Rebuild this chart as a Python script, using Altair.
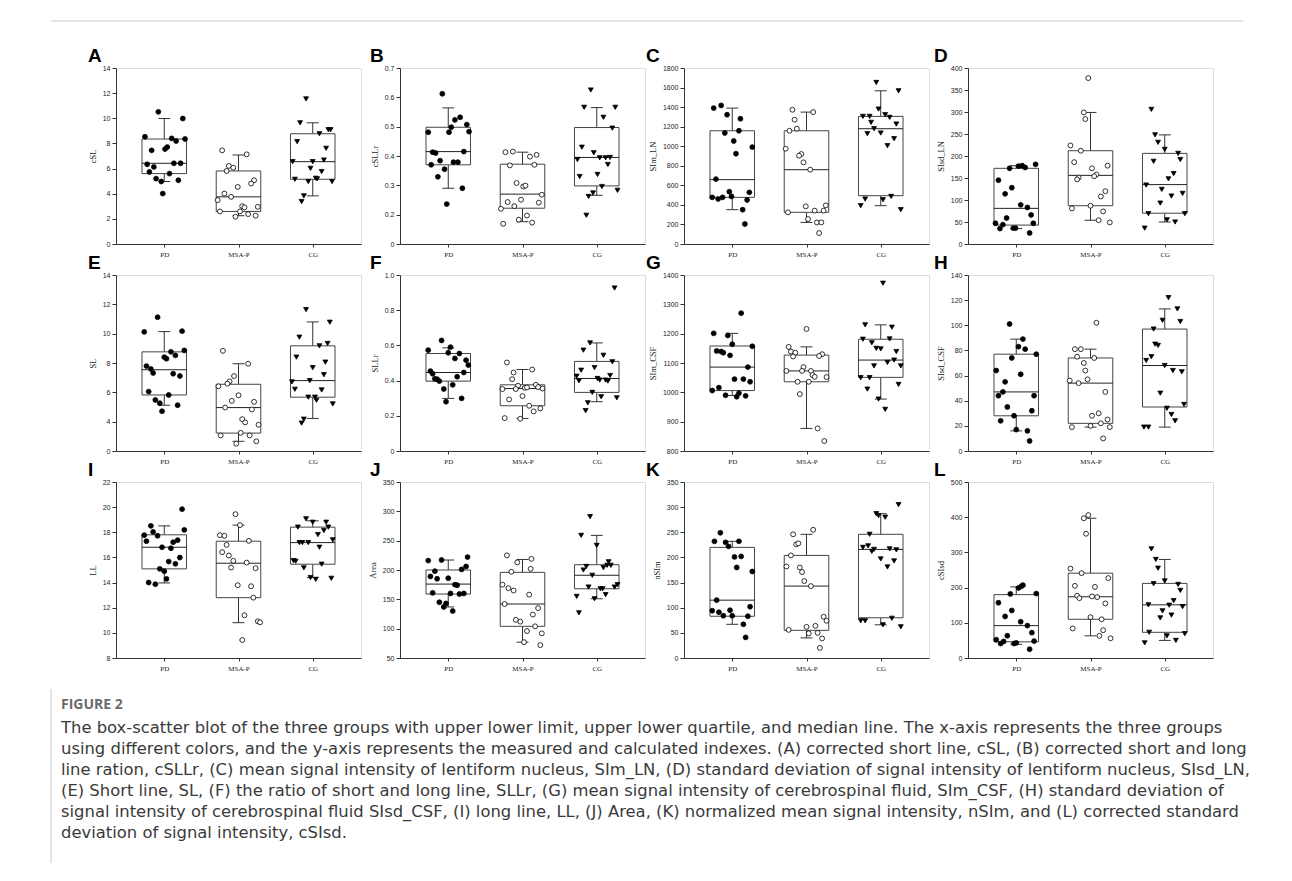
import altair as alt
import pandas as pd

GROUPS = ["PD", "MSA-P", "CG"]

# ---------------- A: cSL ----------------
CSL_PD = [10.51, 9.98, 8.53, 8.40, 8.19, 8.35, 7.71, 7.55, 7.45, 6.34, 6.13, 6.42, 6.42, 5.73, 5.60, 5.20, 4.97, 5.07, 4.01]
CSL_PD_J = [-0.08, 0.25, -0.26, 0.10, 0.16, 0.28, 0.04, 0.01, -0.17, -0.23, -0.14, 0.13, 0.22, -0.20, 0.07, -0.11, -0.04, 0.19, -0.02]
CSL_PD_BOX = [4.97, 5.60, 6.42, 8.35, 9.98]
CSL_MSA = [7.45, 7.13, 6.21, 6.07, 5.81, 5.07, 4.81, 4.54, 4.01, 3.75, 3.49, 3.01, 2.91, 2.96, 2.59, 2.59, 2.38, 2.25, 2.17]
CSL_MSA_J = [-0.22, 0.11, -0.13, -0.07, -0.16, 0.21, 0.17, -0.01, -0.19, -0.10, -0.28, 0.05, 0.08, 0.26, -0.25, 0.02, 0.13, 0.23, -0.04]
CSL_MSA_BOX = [2.25, 2.59, 3.75, 5.81, 7.08]
CSL_CG = [11.54, 9.64, 9.09, 9.09, 8.77, 8.14, 7.61, 6.55, 6.55, 6.68, 6.02, 5.76, 5.15, 5.23, 5.18, 4.97, 4.97, 3.83, 3.38]
CSL_CG_J = [-0.09, -0.17, 0.21, 0.24, 0.09, -0.21, 0.18, -0.27, 0.0, 0.15, -0.03, 0.12, -0.24, 0.04, 0.06, -0.06, 0.26, -0.12, -0.15]
CSL_CG_BOX = [3.83, 5.15, 6.55, 8.77, 9.64]

# ---------------- B: cSLLr ----------------
CSLLR_PD = [0.612, 0.532, 0.523, 0.507, 0.498, 0.481, 0.481, 0.483, 0.413, 0.410, 0.415, 0.384, 0.379, 0.379, 0.370, 0.355, 0.329, 0.290, 0.236]
CSLLR_PD_J = [-0.08, 0.16, 0.09, 0.25, 0.04, -0.27, 0.01, 0.28, -0.21, -0.17, 0.21, -0.11, 0.07, 0.13, -0.23, -0.05, -0.14, 0.19, -0.02]
CSLLR_PD_BOX = [0.290, 0.370, 0.415, 0.498, 0.564]
CSLLR_MSA = [0.413, 0.415, 0.398, 0.404, 0.368, 0.370, 0.308, 0.296, 0.299, 0.268, 0.251, 0.243, 0.241, 0.229, 0.220, 0.197, 0.183, 0.173, 0.169]
CSLLR_MSA_J = [-0.23, -0.13, 0.10, 0.19, -0.17, 0.16, -0.08, 0.01, 0.04, 0.26, -0.02, -0.20, 0.22, -0.11, -0.29, 0.06, -0.05, 0.13, -0.26]
CSLLR_MSA_BOX = [0.176, 0.222, 0.270, 0.372, 0.413]
CSLLR_CG = [0.625, 0.566, 0.566, 0.532, 0.495, 0.430, 0.411, 0.388, 0.394, 0.394, 0.395, 0.371, 0.337, 0.330, 0.296, 0.283, 0.274, 0.262, 0.198]
CSLLR_CG_J = [-0.08, -0.17, 0.25, 0.09, 0.21, -0.20, -0.04, -0.26, 0.04, 0.12, 0.18, 0.15, 0.01, -0.23, 0.07, 0.28, -0.05, -0.11, -0.14]
CSLLR_CG_BOX = [0.266, 0.298, 0.395, 0.497, 0.565]

# ---------------- C: SIm_LN ----------------
SIMLN_PD = [1417, 1390, 1322, 1281, 1135, 1158, 1053, 991, 923, 664, 535, 528, 477, 460, 477, 487, 450, 351, 204]
SIMLN_PD_J = [-0.15, -0.25, -0.07, 0.11, -0.10, 0.09, 0.02, 0.27, 0.05, -0.22, -0.04, 0.23, -0.27, -0.19, -0.13, -0.01, 0.20, 0.14, 0.17]
SIMLN_PD_BOX = [351, 477, 658, 1158, 1390]
SIMLN_MSA = [1373, 1349, 1271, 1179, 1158, 974, 920, 903, 835, 760, 385, 324, 341, 341, 395, 255, 221, 221, 112]
SIMLN_MSA_J = [-0.19, 0.09, -0.16, -0.13, -0.23, -0.28, -0.07, -0.10, -0.04, 0.05, -0.01, -0.25, 0.11, 0.23, 0.26, 0.02, 0.14, 0.20, 0.17]
SIMLN_MSA_BOX = [221, 324, 760, 1158, 1349]
SIMLN_CG = [1652, 1567, 1380, 1305, 1305, 1322, 1295, 1244, 1179, 1227, 1128, 1135, 1077, 1005, 460, 453, 487, 392, 351]
SIMLN_CG_J = [-0.06, 0.24, -0.03, -0.24, -0.15, 0.06, 0.12, -0.13, -0.09, 0.21, -0.18, 0.0, 0.18, 0.09, -0.21, 0.03, 0.14, -0.27, 0.27]
SIMLN_CG_BOX = [392, 494, 1179, 1305, 1567]

# ---------------- D: SIsd_LN ----------------
SISDLN_PD = [145, 128, 114, 181, 178, 177, 174, 172, 89, 83, 66, 59, 47, 44, 47, 35, 36, 36, 25]
SISDLN_PD_J = [-0.24, -0.06, -0.15, 0.26, 0.08, 0.03, 0.12, -0.09, 0.06, 0.15, 0.20, -0.13, -0.28, -0.18, 0.23, -0.22, -0.04, -0.01, 0.18]
SISDLN_PD_BOX = [35, 43, 81, 172, 178]
SISDLN_MSA = [377, 299, 284, 224, 212, 186, 172, 178, 158, 154, 151, 147, 120, 108, 87, 81, 74, 54, 49]
SISDLN_MSA_J = [-0.03, -0.09, -0.07, -0.27, -0.13, -0.22, 0.02, 0.23, 0.08, 0.05, -0.16, -0.18, 0.20, 0.14, 0.0, -0.25, 0.17, 0.11, 0.26]
SISDLN_MSA_BOX = [54, 87, 156, 212, 299]
SISDLN_CG = [306, 248, 231, 215, 206, 192, 188, 160, 148, 134, 124, 115, 109, 93, 69, 69, 55, 50, 36]
SISDLN_CG_J = [-0.18, -0.13, -0.09, 0.0, 0.18, 0.21, -0.15, 0.12, 0.05, -0.25, -0.04, 0.24, 0.09, -0.06, -0.22, 0.27, 0.03, 0.14, -0.27]
SISDLN_CG_BOX = [50, 70, 135, 206, 248]

# ---------------- E: SL ----------------
SL_PD = [11.12, 10.12, 10.17, 8.86, 8.76, 8.52, 8.40, 8.29, 7.79, 7.59, 7.32, 7.27, 7.11, 6.05, 5.82, 5.48, 5.26, 5.12, 4.71]
SL_PD_J = [-0.09, -0.27, 0.24, 0.27, 0.09, 0.15, 0.0, 0.03, -0.24, -0.18, -0.15, 0.12, 0.21, -0.21, 0.06, -0.12, -0.06, 0.18, -0.03]
SL_PD_BOX = [5.12, 5.82, 7.54, 8.76, 10.14]
SL_MSA = [8.83, 7.95, 7.11, 6.75, 6.59, 6.41, 5.80, 5.42, 5.35, 4.96, 4.83, 4.17, 3.95, 3.79, 3.24, 3.06, 3.06, 2.66, 2.50]
SL_MSA_J = [-0.21, 0.13, -0.06, -0.12, -0.15, -0.27, 0.0, -0.09, 0.21, -0.18, 0.18, 0.05, 0.09, 0.27, 0.03, -0.24, 0.15, 0.24, -0.03]
SL_MSA_BOX = [2.66, 3.22, 4.96, 6.55, 7.95]
SL_CG = [11.64, 10.78, 9.76, 9.33, 9.17, 8.40, 8.06, 7.68, 7.20, 6.71, 6.80, 6.21, 6.16, 5.67, 5.67, 5.46, 5.21, 4.17, 3.90]
SL_CG_J = [-0.09, 0.23, -0.18, 0.20, 0.09, -0.22, 0.17, 0.0, 0.15, -0.28, -0.04, -0.24, 0.12, -0.06, 0.03, 0.05, 0.27, -0.12, -0.15]
SL_CG_BOX = [4.22, 5.67, 6.80, 9.17, 10.80]

# ---------------- F: SLLr ----------------
SLLR_PD = [0.628, 0.573, 0.590, 0.558, 0.554, 0.526, 0.516, 0.488, 0.454, 0.439, 0.446, 0.410, 0.408, 0.397, 0.422, 0.376, 0.352, 0.299, 0.280]
SLLR_PD_J = [-0.09, -0.27, 0.03, 0.0, 0.15, 0.09, 0.24, 0.27, -0.24, -0.21, 0.21, -0.18, -0.15, -0.12, 0.12, 0.06, -0.06, 0.18, -0.03]
SLLR_PD_BOX = [0.299, 0.397, 0.446, 0.554, 0.586]
SLLR_MSA = [0.503, 0.463, 0.446, 0.408, 0.371, 0.376, 0.352, 0.352, 0.359, 0.361, 0.363, 0.355, 0.312, 0.293, 0.257, 0.242, 0.225, 0.187, 0.183]
SLLR_MSA_J = [-0.21, 0.13, -0.12, -0.14, -0.06, 0.18, -0.27, -0.09, 0.03, 0.06, 0.21, 0.27, 0.0, -0.18, 0.09, 0.24, 0.15, -0.24, -0.03]
SLLR_MSA_BOX = [0.185, 0.257, 0.355, 0.376, 0.463]
SLLR_CG = [0.926, 0.614, 0.573, 0.544, 0.507, 0.459, 0.474, 0.425, 0.429, 0.399, 0.412, 0.403, 0.403, 0.397, 0.333, 0.308, 0.302, 0.274, 0.229]
SLLR_CG_J = [0.24, -0.09, -0.18, 0.09, 0.21, -0.21, -0.03, -0.27, 0.18, -0.24, 0.01, 0.04, 0.12, 0.15, -0.06, 0.06, 0.27, -0.12, -0.15]
SLLR_CG_BOX = [0.280, 0.333, 0.412, 0.509, 0.614]

# ---------------- G: SIm_CSF ----------------
SIMCSF_PD = [1270, 1201, 1194, 1164, 1157, 1141, 1139, 1135, 1126, 1086, 1045, 1045, 1036, 1016, 1006, 997, 990, 988, 985]
SIMCSF_PD_J = [0.12, -0.25, -0.06, 0.0, 0.27, -0.21, -0.15, -0.12, -0.03, 0.21, 0.03, 0.15, 0.24, -0.18, -0.27, 0.09, -0.09, 0.18, 0.06]
SIMCSF_PD_BOX = [989, 1006, 1086, 1158, 1201]
SIMCSF_MSA = [1216, 1155, 1139, 1135, 1122, 1130, 1124, 1086, 1073, 1073, 1073, 1059, 1053, 1052, 1036, 1036, 994, 877, 834]
SIMCSF_MSA_J = [0.0, -0.24, -0.21, -0.15, -0.18, 0.21, 0.17, -0.04, -0.27, -0.06, 0.06, 0.08, 0.11, 0.27, -0.12, 0.03, -0.09, 0.15, 0.24]
SIMCSF_MSA_BOX = [877, 1036, 1073, 1127, 1155]
SIMCSF_CG = [1372, 1230, 1222, 1181, 1182, 1169, 1150, 1148, 1139, 1110, 1102, 1090, 1090, 1050, 1050, 1027, 1011, 977, 942]
SIMCSF_CG_J = [0.03, -0.21, 0.15, -0.24, 0.12, -0.12, -0.06, 0.0, 0.21, 0.18, 0.09, -0.09, 0.27, -0.27, -0.15, 0.24, -0.18, -0.03, 0.06]
SIMCSF_CG_BOX = [977, 1051, 1110, 1181, 1230]

# ---------------- H: SIsd_CSF ----------------
SISDCSF_PD = [101, 89, 83, 81, 77, 74, 64, 61, 55, 47, 44, 44, 35, 32, 28, 24, 17, 16, 8]
SISDCSF_PD_J = [-0.09, 0.09, 0.03, 0.12, 0.27, -0.06, -0.27, 0.06, -0.15, -0.18, -0.24, 0.24, -0.12, 0.21, -0.03, -0.21, 0.0, 0.15, 0.18]
SISDCSF_PD_BOX = [16, 28, 47, 77, 89]
SISDCSF_MSA = [102, 81, 81, 75, 74, 70, 64, 57, 56, 54, 47, 30, 28, 25, 22, 20, 19, 19, 10]
SISDCSF_MSA_J = [0.08, -0.21, -0.13, -0.18, 0.05, -0.09, -0.07, -0.04, -0.28, -0.16, 0.20, 0.11, 0.02, 0.23, 0.14, 0.0, -0.25, 0.26, 0.17]
SISDCSF_MSA_BOX = [19, 22, 54, 74, 81]
SISDCSF_CG = [122, 113, 103, 104, 97, 85, 84, 75, 72, 68, 64, 63, 46, 37, 34, 29, 24, 19, 19]
SISDCSF_CG_J = [0.05, 0.17, 0.21, -0.03, -0.15, -0.13, -0.09, -0.18, -0.25, 0.0, 0.11, 0.23, -0.06, 0.26, 0.03, 0.09, 0.14, -0.28, -0.22]
SISDCSF_CG_BOX = [19, 35, 68, 97, 113]

# ---------------- I: LL ----------------
LL_PD = [19.84, 18.51, 18.19, 18.03, 17.77, 17.72, 17.29, 17.37, 17.21, 16.81, 16.73, 15.99, 15.67, 15.49, 15.09, 14.90, 14.29, 14.00, 13.87]
LL_PD_J = [0.24, -0.18, 0.27, -0.15, -0.27, -0.09, -0.24, 0.18, 0.12, -0.03, 0.09, 0.21, 0.06, 0.15, -0.06, 0.0, 0.03, -0.21, -0.12]
LL_PD_BOX = [13.97, 15.09, 16.81, 17.80, 18.51]
LL_MSA = [19.44, 18.57, 17.77, 17.72, 17.32, 17.00, 16.42, 16.15, 15.73, 15.59, 15.19, 15.14, 13.79, 13.71, 12.80, 11.40, 10.92, 10.84, 9.43]
LL_MSA_J = [-0.04, 0.02, -0.25, -0.19, 0.14, -0.16, -0.22, -0.13, -0.07, 0.11, -0.10, 0.23, -0.01, 0.17, 0.20, 0.08, 0.26, 0.29, 0.05]
LL_MSA_BOX = [10.81, 12.80, 15.54, 17.29, 18.57]
LL_CG = [19.07, 18.80, 18.80, 18.41, 18.41, 18.14, 17.82, 17.40, 17.18, 17.18, 17.18, 16.81, 15.75, 15.70, 15.46, 15.17, 14.40, 14.26, 14.34]
LL_CG_J = [-0.09, 0.0, 0.18, -0.20, 0.21, 0.15, 0.07, 0.27, -0.18, -0.14, -0.06, 0.09, -0.26, -0.23, 0.12, -0.12, -0.03, 0.04, 0.25]
LL_CG_BOX = [14.40, 15.46, 17.18, 18.41, 18.91]

# ---------------- J: Area ----------------
AREA_PD = [222, 216, 217, 206, 198, 201, 189, 185, 186, 175, 174, 161, 160, 159, 160, 145, 143, 137, 130]
AREA_PD_J = [0.26, -0.27, -0.09, 0.24, -0.18, 0.18, -0.24, -0.15, 0.0, 0.09, 0.12, -0.21, 0.03, 0.15, 0.21, -0.12, -0.03, -0.06, 0.06]
AREA_PD_BOX = [137, 159, 176, 200, 217]
AREA_MSA = [225, 219, 213, 202, 197, 175, 169, 165, 158, 142, 135, 124, 115, 112, 104, 96, 92, 77, 72]
AREA_MSA_J = [-0.21, 0.12, -0.07, 0.11, -0.15, -0.27, -0.19, -0.12, 0.09, -0.24, 0.21, 0.14, -0.09, -0.03, 0.17, 0.06, 0.26, 0.02, 0.24]
AREA_MSA_BOX = [77, 104, 142, 196, 218]
AREA_CG = [291, 259, 242, 214, 206, 200, 204, 208, 208, 191, 171, 168, 168, 171, 175, 155, 158, 151, 127]
AREA_CG_J = [-0.09, -0.21, 0.0, 0.16, -0.14, -0.18, 0.09, 0.14, 0.19, -0.06, -0.11, 0.05, 0.08, 0.24, 0.28, -0.27, 0.12, -0.03, -0.24]
AREA_CG_BOX = [151, 168, 191, 209, 259]

# ---------------- K: nSIm ----------------
NSIM_PD = [249, 232, 230, 232, 222, 201, 202, 180, 172, 115, 94, 91, 95, 84, 84, 102, 83, 67, 41]
NSIM_PD_J = [-0.16, -0.24, -0.09, 0.09, -0.05, 0.03, 0.12, 0.06, 0.27, -0.21, -0.27, -0.18, -0.03, -0.12, 0.0, 0.24, 0.21, 0.15, 0.18]
NSIM_PD_BOX = [67, 83, 115, 220, 232]
NSIM_MSA = [255, 246, 226, 228, 204, 182, 180, 171, 153, 143, 82, 74, 64, 62, 56, 49, 50, 39, 20]
NSIM_MSA_J = [0.09, -0.18, -0.14, -0.11, -0.21, -0.27, -0.09, -0.06, -0.03, 0.06, 0.23, 0.27, 0.12, 0.0, -0.24, 0.03, 0.15, 0.21, 0.18]
NSIM_MSA_BOX = [40, 55, 143, 204, 246]
NSIM_CG = [305, 287, 283, 280, 246, 220, 223, 216, 212, 217, 215, 197, 193, 181, 74, 74, 79, 66, 62]
NSIM_CG_J = [0.24, -0.06, -0.03, 0.06, -0.15, -0.24, -0.17, -0.09, -0.12, 0.12, 0.21, 0.0, 0.18, 0.09, -0.27, -0.21, 0.15, 0.03, 0.27]
NSIM_CG_BOX = [66, 80, 216, 246, 287]

# ---------------- L: cSIsd ----------------
CSISD_PD = [207, 204, 199, 182, 183, 157, 135, 118, 103, 92, 72, 63, 52, 48, 47, 41, 41, 43, 25]
CSISD_PD_J = [0.09, 0.07, 0.03, -0.08, 0.27, -0.24, -0.06, -0.15, 0.06, 0.15, 0.21, -0.12, -0.27, 0.24, -0.17, -0.21, -0.03, 0.0, 0.18]
CSISD_PD_BOX = [39, 46, 92, 180, 202]
CSISD_MSA = [406, 397, 353, 254, 241, 227, 205, 202, 177, 170, 175, 173, 155, 116, 110, 84, 79, 63, 56]
CSISD_MSA_J = [-0.03, -0.09, -0.06, -0.27, -0.12, 0.24, -0.21, 0.06, -0.18, -0.15, 0.02, 0.09, 0.20, 0.0, 0.15, -0.24, 0.17, 0.12, 0.27]
CSISD_MSA_BOX = [63, 110, 174, 241, 397]
CSISD_CG = [310, 280, 255, 211, 219, 209, 192, 163, 151, 150, 146, 134, 122, 114, 73, 69, 63, 50, 43]
CSISD_CG_J = [-0.18, -0.12, -0.09, -0.15, 0.0, 0.18, 0.21, 0.12, -0.22, 0.06, 0.24, -0.03, 0.09, -0.06, -0.21, 0.27, 0.03, 0.15, -0.27]
CSISD_CG_BOX = [50, 73, 151, 212, 280]

CAPTION_TITLE = "FIGURE 2"
CAPTION_LINES = [
    "The box-scatter blot of the three groups with upper lower limit, upper lower quartile, and median line. The x-axis represents the three groups",
    "using different colors, and the y-axis represents the measured and calculated indexes. (A) corrected short line, cSL, (B) corrected short and long",
    "line ration, cSLLr, (C) mean signal intensity of lentiform nucleus, SIm_LN, (D) standard deviation of signal intensity of lentiform nucleus, SIsd_LN,",
    "(E) Short line, SL, (F) the ratio of short and long line, SLLr, (G) mean signal intensity of cerebrospinal fluid, SIm_CSF, (H) standard deviation of",
    "signal intensity of cerebrospinal fluid SIsd_CSF, (I) long line, LL, (J) Area, (K) normalized mean signal intensity, nSIm, and (L) corrected standard",
    "deviation of signal intensity, cSIsd.",
]

W, H = 245, 176
LETTER_DX = [-28, -30, -38, -34]

# (letter, y-title, series, y-domain, y-ticks, labelExpr)
PANELS = [
    ("A", "cSL", [(CSL_PD, CSL_PD_J, CSL_PD_BOX), (CSL_MSA, CSL_MSA_J, CSL_MSA_BOX), (CSL_CG, CSL_CG_J, CSL_CG_BOX)],
     [0, 14], [0, 2, 4, 6, 8, 10, 12, 14], None),
    ("B", "cSLLr", [(CSLLR_PD, CSLLR_PD_J, CSLLR_PD_BOX), (CSLLR_MSA, CSLLR_MSA_J, CSLLR_MSA_BOX), (CSLLR_CG, CSLLR_CG_J, CSLLR_CG_BOX)],
     [0.1, 0.7], [0.1, 0.2, 0.3, 0.4, 0.5, 0.6, 0.7], "datum.value < 0.15 ? '0' : format(datum.value, '.1f')"),
    ("C", "SIm_LN", [(SIMLN_PD, SIMLN_PD_J, SIMLN_PD_BOX), (SIMLN_MSA, SIMLN_MSA_J, SIMLN_MSA_BOX), (SIMLN_CG, SIMLN_CG_J, SIMLN_CG_BOX)],
     [0, 1800], [0, 200, 400, 600, 800, 1000, 1200, 1400, 1600, 1800], "format(datum.value, 'd')"),
    ("D", "SIsd_LN", [(SISDLN_PD, SISDLN_PD_J, SISDLN_PD_BOX), (SISDLN_MSA, SISDLN_MSA_J, SISDLN_MSA_BOX), (SISDLN_CG, SISDLN_CG_J, SISDLN_CG_BOX)],
     [0, 400], [0, 50, 100, 150, 200, 250, 300, 350, 400], None),
    ("E", "SL", [(SL_PD, SL_PD_J, SL_PD_BOX), (SL_MSA, SL_MSA_J, SL_MSA_BOX), (SL_CG, SL_CG_J, SL_CG_BOX)],
     [2, 14], [2, 4, 6, 8, 10, 12, 14], "datum.value < 3 ? '0' : datum.label"),
    ("F", "SLLr", [(SLLR_PD, SLLR_PD_J, SLLR_PD_BOX), (SLLR_MSA, SLLR_MSA_J, SLLR_MSA_BOX), (SLLR_CG, SLLR_CG_J, SLLR_CG_BOX)],
     [0, 1.0], [0, 0.2, 0.4, 0.6, 0.8, 1.0], "datum.value == 0 ? '0' : format(datum.value, '.1f')"),
    ("G", "SIm_CSF", [(SIMCSF_PD, SIMCSF_PD_J, SIMCSF_PD_BOX), (SIMCSF_MSA, SIMCSF_MSA_J, SIMCSF_MSA_BOX), (SIMCSF_CG, SIMCSF_CG_J, SIMCSF_CG_BOX)],
     [800, 1400], [800, 900, 1000, 1100, 1200, 1300, 1400], "format(datum.value, 'd')"),
    ("H", "SIsd_CSF", [(SISDCSF_PD, SISDCSF_PD_J, SISDCSF_PD_BOX), (SISDCSF_MSA, SISDCSF_MSA_J, SISDCSF_MSA_BOX), (SISDCSF_CG, SISDCSF_CG_J, SISDCSF_CG_BOX)],
     [0, 140], [0, 20, 40, 60, 80, 100, 120, 140], None),
    ("I", "LL", [(LL_PD, LL_PD_J, LL_PD_BOX), (LL_MSA, LL_MSA_J, LL_MSA_BOX), (LL_CG, LL_CG_J, LL_CG_BOX)],
     [8, 22], [8, 10, 12, 14, 16, 18, 20, 22], None),
    ("J", "Area", [(AREA_PD, AREA_PD_J, AREA_PD_BOX), (AREA_MSA, AREA_MSA_J, AREA_MSA_BOX), (AREA_CG, AREA_CG_J, AREA_CG_BOX)],
     [50, 350], [50, 100, 150, 200, 250, 300, 350], None),
    ("K", "nSIm", [(NSIM_PD, NSIM_PD_J, NSIM_PD_BOX), (NSIM_MSA, NSIM_MSA_J, NSIM_MSA_BOX), (NSIM_CG, NSIM_CG_J, NSIM_CG_BOX)],
     [0, 350], [0, 50, 100, 150, 200, 250, 300, 350], None),
    ("L", "cSIsd", [(CSISD_PD, CSISD_PD_J, CSISD_PD_BOX), (CSISD_MSA, CSISD_MSA_J, CSISD_MSA_BOX), (CSISD_CG, CSISD_CG_J, CSISD_CG_BOX)],
     [0, 500], [0, 100, 200, 300, 400, 500], None),
]

LINE = "#333333"


def make_panel(idx, letter, ytitle, series, domain, ticks, label_expr):
    pts, boxes = [], []
    for gi, (ys, js, bx) in enumerate(series, start=1):
        for yv, jv in zip(ys, js):
            pts.append({"x": gi + jv, "y": yv, "grp": GROUPS[gi - 1]})
        lo, q1, med, q3, hi = bx
        boxes.append({"gx": gi, "b0": gi - 0.3, "b1": gi + 0.3, "c0": gi - 0.08, "c1": gi + 0.08,
                      "lo": lo, "q1": q1, "med": med, "q3": q3, "hi": hi})
    pdf = pd.DataFrame(pts)
    bdf = pd.DataFrame(boxes)

    xs = alt.Scale(domain=[0.35, 3.65], nice=False, zero=False)
    ysc = alt.Scale(domain=domain, nice=False, zero=False)
    xax = alt.Axis(values=[1, 2, 3], title=None, grid=False, tickSize=3, tickColor=LINE,
                   labelExpr="datum.value == 1 ? 'PD' : (datum.value == 2 ? 'MSA-P' : 'CG')",
                   labelFont="Liberation Serif", labelFontSize=7, labelColor="#222222",
                   labelPadding=3, domainColor=LINE, labelFlush=False)
    yargs = dict(values=ticks, title=ytitle, grid=False, tickSize=4, tickColor=LINE,
                 labelFont="Liberation Sans", labelFontSize=7, labelColor="#222222", labelPadding=2,
                 titleFont="Liberation Serif", titleFontSize=8.5, titleFontWeight="normal",
                 titleColor="#222222", titlePadding=5, domainColor=LINE)
    if label_expr:
        yargs["labelExpr"] = label_expr
    yax = alt.Axis(**yargs)

    def X(f):
        return alt.X(f, type="quantitative", scale=xs, axis=xax)

    def Y(f):
        return alt.Y(f, type="quantitative", scale=ysc, axis=yax)

    base = alt.Chart(bdf)
    whisk_lo = base.mark_rule(color=LINE, strokeWidth=1).encode(x=X("gx"), y=Y("lo"), y2="q1")
    whisk_hi = base.mark_rule(color=LINE, strokeWidth=1).encode(x=X("gx"), y=Y("q3"), y2="hi")
    cap_lo = base.mark_rule(color=LINE, strokeWidth=1).encode(x=X("c0"), x2="c1", y=Y("lo"))
    cap_hi = base.mark_rule(color=LINE, strokeWidth=1).encode(x=X("c0"), x2="c1", y=Y("hi"))
    box = base.mark_rect(fill="white", stroke="#444444", strokeWidth=1).encode(
        x=X("b0"), x2="b1", y=Y("q1"), y2="q3")
    med = base.mark_rule(color="#222222", strokeWidth=1).encode(x=X("b0"), x2="b1", y=Y("med"))
    points = alt.Chart(pdf).mark_point(filled=True, size=24, stroke="black", strokeWidth=0.8, opacity=1).encode(
        x=X("x"), y=Y("y"),
        shape=alt.Shape("grp:N", scale=alt.Scale(domain=GROUPS, range=["circle", "circle", "triangle-down"]), legend=None),
        fill=alt.Fill("grp:N", scale=alt.Scale(domain=GROUPS, range=["black", "white", "black"]), legend=None),
    )
    lab = alt.Chart(pd.DataFrame({"t": [letter]})).mark_text(
        font="Liberation Sans", fontSize=19, fontWeight="bold", align="left", baseline="alphabetic", color="black"
    ).encode(text="t:N", x=alt.value(LETTER_DX[idx % 4]), y=alt.value(-6))

    layers = [whisk_lo, whisk_hi, cap_lo, cap_hi, box, med, points, lab]

    if idx == 0:
        rule = alt.Chart(pd.DataFrame({"a": [0]})).mark_rule(color="#c8c8c8", strokeWidth=1).encode(
            x=alt.value(-65), x2=alt.value(1127), y=alt.value(-47))
        layers.append(rule)
    if idx == 8:
        vline = alt.Chart(pd.DataFrame({"a": [0]})).mark_rule(color="#c8c8c8", strokeWidth=1).encode(
            x=alt.value(-65), y=alt.value(207), y2=alt.value(381))
        fig = alt.Chart(pd.DataFrame({"t": [CAPTION_TITLE]})).mark_text(
            font="Open Sans", fontSize=14, fontWeight="bold", align="left", baseline="alphabetic", color="#6b6b6b"
        ).encode(text="t:N", x=alt.value(-55), y=alt.value(227))
        cap = alt.Chart(pd.DataFrame({"t": ["\n".join(CAPTION_LINES)]})).mark_text(
            font="DejaVu Sans", fontSize=16.4, align="left", baseline="alphabetic", color="#3a3a3a",
            lineBreak="\n", lineHeight=21
        ).encode(text="t:N", x=alt.value(-55), y=alt.value(251))
        layers += [vline, fig, cap]

    return alt.layer(*layers).properties(width=W, height=H)


panels = [make_panel(i, *p) for i, p in enumerate(PANELS)]

chart = alt.concat(*panels, columns=4, spacing={"row": 31, "column": 39}, bounds="flush").properties(
    padding={"left": 42, "top": 12, "right": 10, "bottom": 10}
).configure_view(stroke="#7a7a7a", strokeWidth=1).configure(background="white")

chart.save("out.html", embed_options={"renderer": "svg", "actions": False})
